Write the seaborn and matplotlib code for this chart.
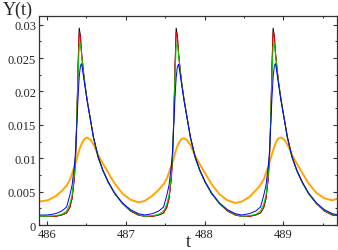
import matplotlib
matplotlib.use("Agg")
import matplotlib.pyplot as plt
from matplotlib.ticker import MultipleLocator, FuncFormatter
import seaborn as sns

# time grid (three pulses)
t = [485.90,
     486.01, 486.11, 486.19, 486.25, 486.29, 486.32, 486.35, 486.365, 486.38, 486.395,
     486.41, 486.425, 486.44, 486.46, 486.48, 486.51, 486.55, 486.59, 486.65, 486.71,
     486.78, 486.86, 486.96, 487.06, 487.16,
     487.24, 487.34, 487.42, 487.48, 487.52, 487.55, 487.58, 487.595, 487.61, 487.625,
     487.64, 487.655, 487.67, 487.69, 487.71, 487.74, 487.78, 487.82, 487.88, 487.94,
     488.01, 488.09, 488.19, 488.29, 488.39,
     488.47, 488.57, 488.65, 488.71, 488.75, 488.78, 488.81, 488.825, 488.84, 488.855,
     488.87, 488.885, 488.90, 488.92, 488.94, 488.97, 489.01, 489.05, 489.11, 489.17,
     489.24, 489.32, 489.42, 489.52, 489.62,
     489.70]

y_orange = [0.0035,
            0.0037, 0.0043, 0.0051, 0.0059, 0.0067, 0.0077, 0.0088, 0.0093, 0.0099, 0.0106,
            0.0112, 0.0117, 0.0121, 0.0126, 0.0129, 0.0131, 0.0128, 0.0121, 0.0105, 0.0092,
            0.0078, 0.0062, 0.0047, 0.0038, 0.0034,
            0.0036, 0.0044, 0.0053, 0.0061, 0.0069, 0.0079, 0.0089, 0.0094, 0.0100, 0.0107,
            0.0113, 0.0118, 0.0122, 0.0126, 0.0129, 0.0130, 0.0127, 0.0120, 0.0104, 0.0091,
            0.0077, 0.0061, 0.0046, 0.0037, 0.0033,
            0.0035, 0.0042, 0.0052, 0.0060, 0.0068, 0.0078, 0.0088, 0.0094, 0.0100, 0.0106,
            0.0112, 0.0117, 0.0122, 0.0127, 0.0130, 0.0131, 0.0128, 0.0121, 0.0105, 0.0092,
            0.0078, 0.0062, 0.0048, 0.0040, 0.0037,
            0.0040]

y_black = [0.0013,
           0.0013, 0.0013, 0.0015, 0.0018, 0.0026, 0.0040, 0.0072, 0.0105, 0.0160, 0.0238,
           0.0295, 0.0284, 0.0258, 0.0234, 0.0213, 0.0188, 0.0160, 0.0132, 0.0102, 0.0082,
           0.0064, 0.0047, 0.0032, 0.0021, 0.0015,
           0.0013, 0.0013, 0.0015, 0.0018, 0.0026, 0.0040, 0.0072, 0.0105, 0.0160, 0.0238,
           0.0295, 0.0284, 0.0258, 0.0234, 0.0213, 0.0188, 0.0160, 0.0132, 0.0102, 0.0082,
           0.0064, 0.0047, 0.0032, 0.0021, 0.0015,
           0.0013, 0.0013, 0.0015, 0.0018, 0.0026, 0.0040, 0.0072, 0.0105, 0.0160, 0.0238,
           0.0295, 0.0284, 0.0258, 0.0234, 0.0213, 0.0188, 0.0160, 0.0132, 0.0102, 0.0082,
           0.0064, 0.0047, 0.0032, 0.0021, 0.0015,
           0.0014]

y_red = [0.0013,
         0.0013, 0.0013, 0.0015, 0.0018, 0.0026, 0.0040, 0.0072, 0.0105, 0.0160, 0.0235,
         0.0290, 0.0282, 0.0258, 0.0234, 0.0213, 0.0188, 0.0160, 0.0132, 0.0102, 0.0082,
         0.0064, 0.0047, 0.0032, 0.0021, 0.0015,
         0.0013, 0.0013, 0.0015, 0.0018, 0.0026, 0.0040, 0.0072, 0.0105, 0.0160, 0.0235,
         0.0289, 0.0282, 0.0258, 0.0234, 0.0213, 0.0188, 0.0160, 0.0132, 0.0102, 0.0082,
         0.0064, 0.0047, 0.0032, 0.0021, 0.0015,
         0.0013, 0.0013, 0.0015, 0.0018, 0.0026, 0.0040, 0.0072, 0.0105, 0.0160, 0.0235,
         0.0290, 0.0282, 0.0258, 0.0234, 0.0213, 0.0188, 0.0160, 0.0132, 0.0102, 0.0082,
         0.0064, 0.0047, 0.0032, 0.0021, 0.0015,
         0.0014]

y_green = [0.0013,
           0.0013, 0.0014, 0.0016, 0.0021, 0.0031, 0.0045, 0.0078, 0.0110, 0.0160, 0.0225,
           0.0268, 0.0273, 0.0255, 0.0232, 0.0212, 0.0187, 0.0159, 0.0131, 0.0101, 0.0081,
           0.0063, 0.0047, 0.0032, 0.0022, 0.0016,
           0.0013, 0.0014, 0.0016, 0.0021, 0.0031, 0.0045, 0.0078, 0.0110, 0.0160, 0.0225,
           0.0267, 0.0272, 0.0255, 0.0232, 0.0212, 0.0187, 0.0159, 0.0131, 0.0101, 0.0081,
           0.0063, 0.0047, 0.0032, 0.0022, 0.0016,
           0.0013, 0.0014, 0.0016, 0.0021, 0.0031, 0.0045, 0.0078, 0.0110, 0.0160, 0.0225,
           0.0268, 0.0273, 0.0255, 0.0232, 0.0212, 0.0187, 0.0159, 0.0131, 0.0101, 0.0081,
           0.0063, 0.0047, 0.0032, 0.0022, 0.0016,
           0.0015]

y_blue = [0.0015,
          0.0015, 0.0017, 0.0021, 0.0027, 0.0044, 0.0060, 0.0090, 0.0112, 0.0150, 0.0190,
          0.0222, 0.0238, 0.0242, 0.0226, 0.0210, 0.0186, 0.0159, 0.0132, 0.0102, 0.0082,
          0.0064, 0.0048, 0.0033, 0.0023, 0.0017,
          0.0015, 0.0017, 0.0021, 0.0027, 0.0044, 0.0060, 0.0090, 0.0112, 0.0150, 0.0190,
          0.0221, 0.0237, 0.0241, 0.0226, 0.0210, 0.0186, 0.0159, 0.0132, 0.0102, 0.0082,
          0.0064, 0.0048, 0.0033, 0.0023, 0.0017,
          0.0015, 0.0017, 0.0021, 0.0027, 0.0044, 0.0060, 0.0090, 0.0112, 0.0150, 0.0190,
          0.0222, 0.0238, 0.0242, 0.0226, 0.0210, 0.0186, 0.0159, 0.0132, 0.0102, 0.0082,
          0.0064, 0.0048, 0.0033, 0.0023, 0.0017,
          0.0015]

sns.set_style("ticks")
plt.rcParams["font.family"] = ["Liberation Serif", "DejaVu Serif"]

fig = plt.figure(figsize=(3.38, 2.51), dpi=100)
ax = fig.add_axes([0.1154, 0.0996, 0.8816, 0.8324])

# orange drawn first, then black under red, green, blue
series = [(y_orange, "#ffa500", 1.4),
          (y_black, "#000000", 0.7),
          (y_red, "#ff0000", 0.7),
          (y_green, "#00d000", 0.7),
          (y_blue, "#0000ff", 0.7)]
for vals, col, lw in series:
    sns.lineplot(x=t, y=vals, color=col, lw=lw, ax=ax, sort=False)

ax.set_xlim(485.9, 489.68)
ax.set_ylim(0, 0.0313)
ax.xaxis.set_major_locator(MultipleLocator(1))
ax.xaxis.set_minor_locator(MultipleLocator(0.5))
ax.yaxis.set_major_locator(MultipleLocator(0.005))
ax.yaxis.set_minor_locator(MultipleLocator(0.0025))
ax.xaxis.set_major_formatter(FuncFormatter(lambda v, p: "%g" % v))
ax.yaxis.set_major_formatter(FuncFormatter(lambda v, p: "%g" % v))
ax.tick_params(which="both", direction="in", top=True, right=True,
               labelsize=9, width=0.8, color="#333333", pad=2)
ax.tick_params(which="major", length=3)
ax.tick_params(which="minor", length=1.6)
for s in ax.spines.values():
    s.set_linewidth(0.9)
    s.set_color("#333333")

ax.set_xlabel("")
ax.set_ylabel("")
fig.text(0.556, 0.0, "t", fontsize=13, ha="center", va="bottom")
fig.text(0.008, 0.995, "Y(t)", fontsize=13, ha="left", va="top")

fig.savefig("out.png", dpi=100)
